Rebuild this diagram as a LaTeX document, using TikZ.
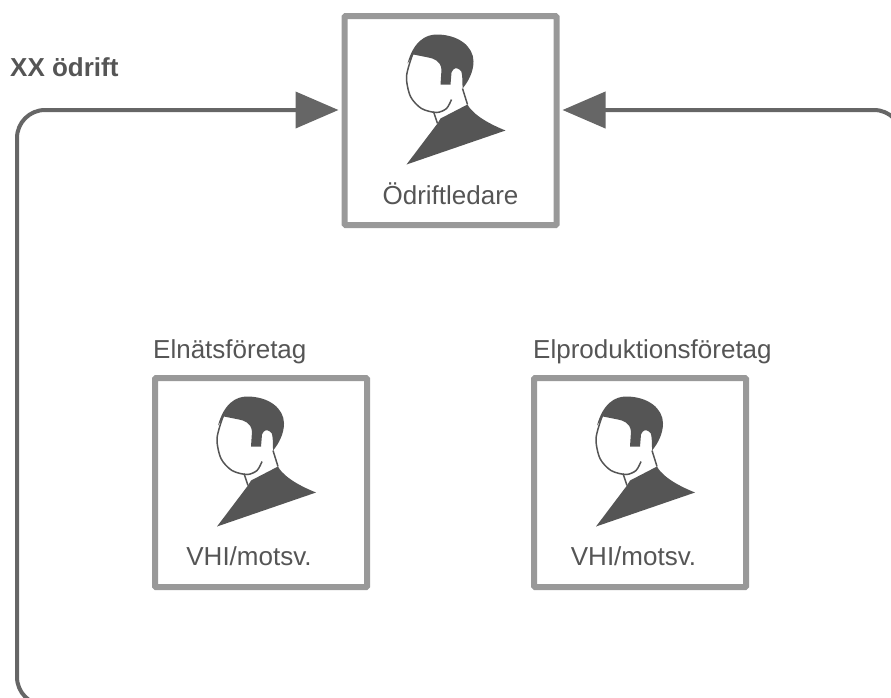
\documentclass[tikz,border=0pt]{standalone}
\usepackage{fontspec}
\setmainfont{Liberation Sans}
\usetikzlibrary{arrows.meta}
\definecolor{framegray}{HTML}{999999}
\definecolor{icongray}{HTML}{555555}
\definecolor{flowgray}{HTML}{666666}
\tikzstyle{box} = [draw=framegray, rectangle, line width=6pt, fill=white, rounded corners=1pt, minimum width=212pt, minimum height=209pt]
\tikzstyle{caption} = [text=icongray, font=\fontsize{26}{30}\selectfont, inner sep=0pt]
\tikzstyle{flow} = [draw=flowgray, line width=4pt, rounded corners=28pt, shorten >=3pt]
\tikzstyle{node} = [coordinate]
\tikzset{person/.pic={
    \fill [icongray] (-44,-44) -- (-13,-3) -- (-10,2) -- (17,16) .. controls (20,10) and (30,0) .. (55,-10) -- cycle;
    \fill [icongray] (-43,57) .. controls (-37,79) and (-25,86) .. (-14,86) .. controls (8,86) and (23,74) .. (23,59) .. controls (23,49) and (18,39) .. (12,32) .. controls (12,40) and (12,51) .. (9,51) .. controls (6,53) and (3,53) .. (1,48) -- (0,36) -- (-10,36) -- (-9,51) .. controls (-10,60) and (-17,62) .. (-22,63) -- (-37,66) -- cycle;
    \draw [icongray, line width=1.5pt] plot [smooth] coordinates {(-38,66) (-44,44) (-40,24) (-29,12) (-14,8) (-4,12) (1,21)};
    \draw [icongray, line width=1.5pt] (-17,9) -- (-13,-3);
    \draw [icongray, line width=1.5pt] (12,32) -- (17,16);
}}

\begin{document}
\begin{tikzpicture}[x=1pt, y=1pt, node distance=74pt, >={Triangle[length=43pt,width=36pt]}]
    \useasboundingbox (0,0) rectangle (891,-697);
    \node [box] (leader) at (450.5,-120.5) {};
    \pic at (leader) {person};
    \node [caption, below of=leader, yshift=1pt] (leadertext) {Ödriftledare};

    \node [box] (grid) at (261,-482.5) {};
    \pic at (grid) {person};
    \node [caption, below of=grid, xshift=-12pt] (gridtext) {VHI/motsv.};
    \node [caption, anchor=base west] (gridname) at (153,-358) {Elnätsföretag};

    \node [box] (plant) at (640,-482.5) {};
    \pic at (plant) {person};
    \node [caption, below of=plant, xshift=-6.5pt] (planttext) {VHI/motsv.};
    \node [caption, anchor=base west] (plantname) at (533,-358) {Elproduktionsföretag};

    \node [caption, anchor=base west, font=\fontsize{26}{30}\selectfont\bfseries] (title) at (10,-76) {XX ödrift};

    \node [node] (bottomright) at (900,-705) {};
    \node [node] (bottomleft) at (17,-705) {};
    \node [node] (topleft) at (17,-110) {};
    \node [node] (rightend) at (902,-160) {};
    \node [node] (topright) at (902,-110) {};
    \draw [flow, ->] (bottomright) -- (bottomleft) -- (topleft) -- ([yshift=10.5pt]leader.west);
    \draw [flow, ->] (rightend) -- (topright) -- ([yshift=10.5pt]leader.east);
\end{tikzpicture}
\end{document}
